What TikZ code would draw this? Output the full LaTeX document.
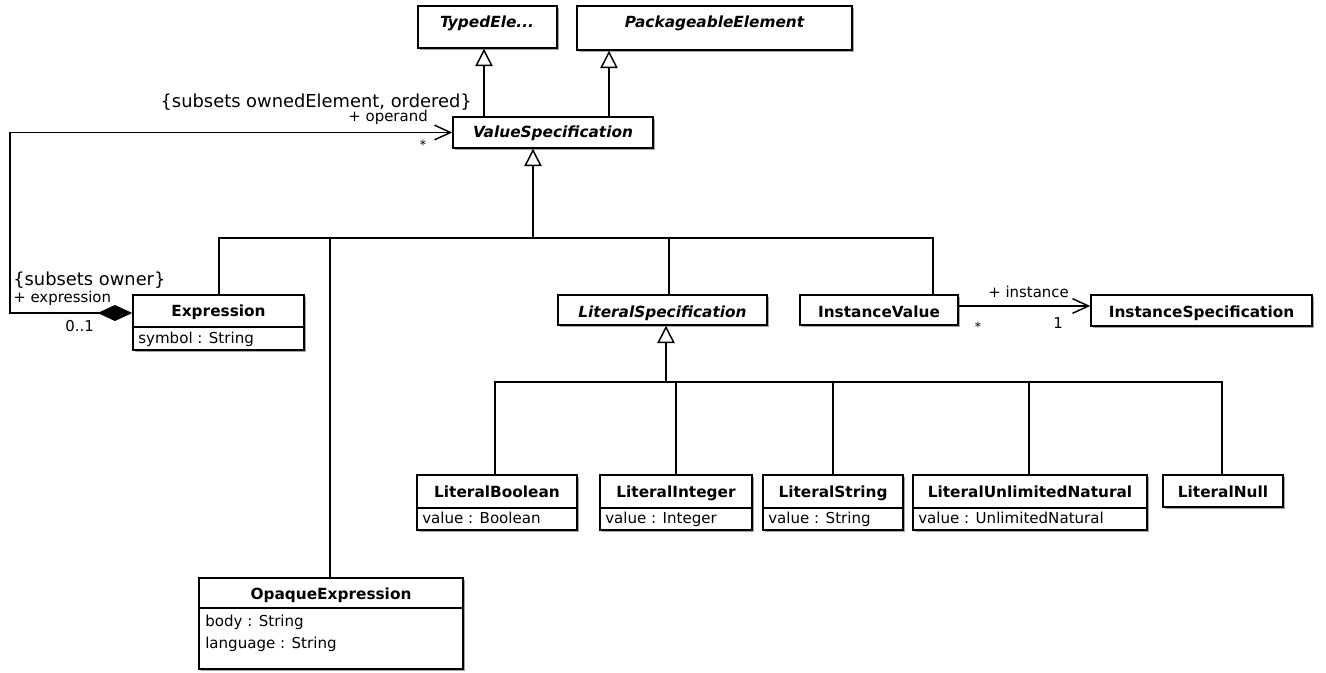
\documentclass[tikz,border=0pt]{standalone}
\usepackage{fontspec}
\setmainfont{DejaVu Sans}
\usetikzlibrary{arrows.meta,fit,shadows}
\begin{document}
\begin{tikzpicture}[x=0.75pt,y=-0.75pt,
  cls/.style={draw=black, line width=1.1pt, fill=white, inner sep=0pt,
    drop shadow={shadow xshift=1.6pt, shadow yshift=-1.6pt, fill=black!35, opacity=1}},
  nm/.style={font=\fontsize{11.5}{13}\selectfont\bfseries, anchor=base, inner sep=0pt},
  attr/.style={font=\fontsize{11.3}{13}\selectfont, anchor=base west, inner sep=0pt},
  lbl/.style={font=\fontsize{11.2}{13}\selectfont, inner sep=0pt},
  cons/.style={font=\fontsize{13.4}{15}\selectfont, inner sep=0pt},
  mstar/.style={font=\fontsize{9.5}{10}\selectfont, inner sep=0pt},
  ln/.style={line width=1.1pt},
  gen/.style={ln, -{Triangle[open, length=13pt, width=13pt, line width=1.1pt]}},
  nav/.style={ln, -{Straight Barb[length=12pt, width=11pt, line width=1.1pt]}},
  comp/.style={ln, {Diamond[length=26pt, width=12pt]}-{Straight Barb[length=12pt, width=11pt, line width=1.1pt]}}
]
\useasboundingbox (0,0) rectangle (1326,673);

% ---- classes ----
\node[cls, fit={(418,6)(557,48)}] (typed) {};
\node[nm] (typedN) at (487,28) {\itshape TypedEle...};

\node[cls, fit={(577,6)(852,50)}] (pack) {};
\node[nm] (packN) at (714.5,28) {\itshape PackageableElement};

\node[cls, fit={(453,117)(653,148)}] (vs) {};
\node[nm] (vsN) at (553,138) {\itshape ValueSpecification};

\node[cls, fit={(133,295)(304,350)}] (expr) {};
\node[nm] (exprN) at (218.5,316) {Expression};
\draw[ln] (133,327) -- (304,327);
\node[attr] (exprA) at (138,343) {symbol : String};

\node[cls, fit={(199,578)(463,669)}] (opq) {};
\node[nm] (opqN) at (331,599) {OpaqueExpression};
\draw[ln] (199,608) -- (463,608);
\node[attr] (opqA1) at (205,626) {body : String};
\node[attr] (opqA2) at (205,648) {language : String};

\node[cls, fit={(558,295)(767,325)}] (lspec) {};
\node[nm] (lspecN) at (662.5,317) {\itshape LiteralSpecification};

\node[cls, fit={(800,295)(958,325)}] (ival) {};
\node[nm] (ivalN) at (879,317) {InstanceValue};

\node[cls, fit={(1091,295)(1312,326)}] (ispec) {};
\node[nm] (ispecN) at (1201.5,317) {InstanceSpecification};

\node[cls, fit={(417,475)(577,530)}] (lbool) {};
\node[nm] (lboolN) at (497,497) {LiteralBoolean};
\draw[ln] (417,508) -- (577,508);
\node[attr] (lboolA) at (422,523) {value : Boolean};

\node[cls, fit={(600,475)(752,530)}] (lint) {};
\node[nm] (lintN) at (676,497) {LiteralInteger};
\draw[ln] (600,508) -- (752,508);
\node[attr] (lintA) at (605,523) {value : Integer};

\node[cls, fit={(763,475)(903,530)}] (lstr) {};
\node[nm] (lstrN) at (833,497) {LiteralString};
\draw[ln] (763,508) -- (903,508);
\node[attr] (lstrA) at (768,523) {value : String};

\node[cls, fit={(913,475)(1147,530)}] (lun) {};
\node[nm] (lunN) at (1030,497) {LiteralUnlimitedNatural};
\draw[ln] (913,508) -- (1147,508);
\node[attr] (lunA) at (918,523) {value : UnlimitedNatural};

\node[cls, fit={(1163,475)(1283,507)}] (lnull) {};
\node[nm] (lnullN) at (1223,497) {LiteralNull};

% ---- generalizations ----
\coordinate (gT) at (484,117);
\coordinate (gP) at (609,117);
\draw[gen] (vs.north -| gT) -- (typed.south -| gT);
\draw[gen] (vs.north -| gP) -- (pack.south -| gP);

\coordinate (vbar) at (533,238);
\draw[gen] (vbar) -- (vbar |- vs.south);
\draw[ln] (expr.north -| 219,0) |- (vbar);
\draw[ln] (opq.north -| 330,0) |- (vbar);
\draw[ln] (lspec.north -| 669,0) |- (vbar);
\draw[ln] (ival.north -| 933,0) |- (vbar);

\coordinate (lbar) at (666,382);
\draw[gen] (lbar) -- (lbar |- lspec.south);
\draw[ln] (lbool.north -| 495,0) |- (lbar);
\draw[ln] (lint.north -| 676,0) |- (lbar);
\draw[ln] (lstr.north -| 833,0) |- (lbar);
\draw[ln] (lun.north -| 1029,0) |- (lbar);
\draw[ln] (lnull.north -| 1222,0) |- (lbar);

% ---- associations ----
\draw[comp] (expr.west |- 0,313) -| (vs.west -| 10,0) -- (vs.west);
\draw[nav] (ival.east |- 0,306) -- (ispec.west |- 0,306);

% ---- association labels ----
\node[cons, anchor=base east] (c1) at (472,108) {\{subsets ownedElement, ordered\}};
\node[lbl, anchor=base east] (r1) at (428,122) {+ operand};
\node[mstar] (m1) at (423,145) {*};
\node[cons, anchor=base west] (c2) at (13,286) {\{subsets owner\}};
\node[lbl, anchor=base west] (r2) at (13,302) {+ expression};
\node[lbl, anchor=base west] (m2) at (65,331) {0..1};
\node[lbl, anchor=base west] (r3) at (988,297) {+ instance};
\node[lbl, anchor=base] (m3) at (1058,328) {1};
\node[mstar] (m4) at (978,327) {*};
\end{tikzpicture}
\end{document}
